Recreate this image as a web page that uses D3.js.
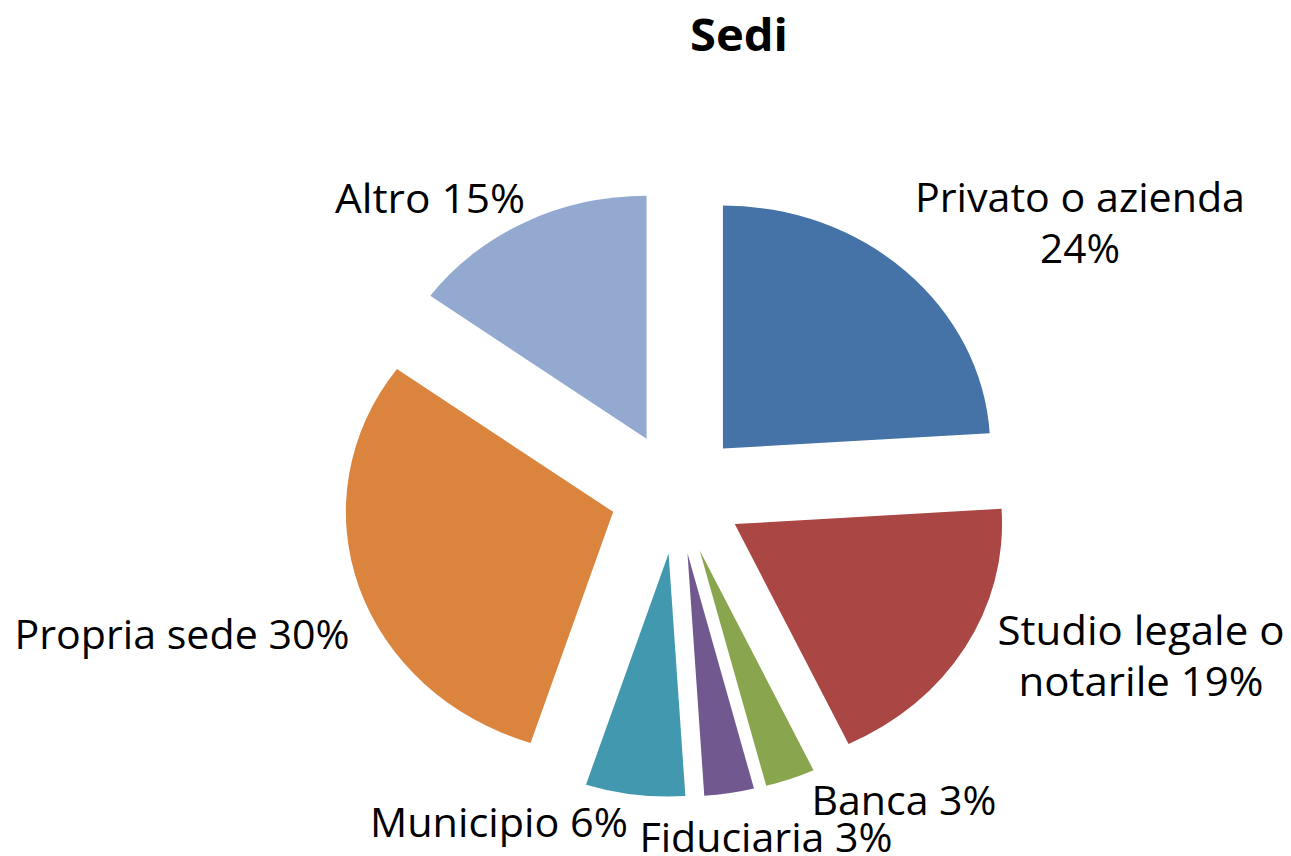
<!DOCTYPE html>
<html>
<head>
<meta charset="utf-8">
<script src="https://cdn.jsdelivr.net/npm/d3@7"></script>
<style>
  html, body { margin: 0; padding: 0; background: #fff; }
  text { font-family: "Open Sans", "Noto Sans", sans-serif; fill: #000; }
</style>
</head>
<body>
<svg id="chart" width="1291" height="856"></svg>
<script>
const title = "Sedi";
const categories = ["Privato o azienda", "Studio legale o notarile", "Banca", "Fiduciaria", "Municipio", "Propria sede", "Altro"];
const values = [24, 19, 3, 3, 6, 30, 15];
const colors = ["#4572A7", "#AA4643", "#89A54E", "#71588F", "#4198AF", "#DB843D", "#93A9CF"];
// label lines per slice (text content), with layout kept separately
const labelLines = [
  ["Privato o azienda", "24%"],
  ["Studio legale o", "notarile 19%"],
  ["Banca 3%"],
  ["Fiduciaria 3%"],
  ["Municipio 6%"],
  ["Propria sede 30%"],
  ["Altro 15%"]
];

// layout
const cx = 677, cy = 493, R = 243, sx = 1.1, explode = 61;
const labelLayout = [
  {x: 1080, y: 212, w: [330, 80]},
  {x: 1141, y: 645, w: [287, 245]},
  {x: 904, y: 815, w: [185]},
  {x: 766, y: 852, w: [253]},
  {x: 499, y: 837, w: [258]},
  {x: 182, y: 649, w: [335]},
  {x: 430, y: 213, w: [190]}
];
const lineH = 51;

const svg = d3.select("#chart");

svg.append("text")
  .attr("x", 739).attr("y", 51)
  .attr("text-anchor", "middle")
  .style("font-weight", "bold")
  .style("font-size", "44px")
  .attr("textLength", 98).attr("lengthAdjust", "spacingAndGlyphs")
  .text(title);

const pie = d3.pie().sort(null).value(d => d).startAngle(0).endAngle(2 * Math.PI);
const arcs = pie(values);
const arc = d3.arc().innerRadius(0).outerRadius(R);

const g = svg.append("g").attr("transform", `translate(${cx},${cy}) scale(${sx},1)`);
g.selectAll("path")
  .data(arcs)
  .join("path")
  .attr("d", arc)
  .attr("fill", (d, i) => colors[i])
  .attr("transform", d => {
    const a = (d.startAngle + d.endAngle) / 2;
    return `translate(${explode * Math.sin(a)},${-explode * Math.cos(a)})`;
  });

const lg = svg.append("g");
labelLines.forEach((lines, i) => {
  const L = labelLayout[i];
  lines.forEach((t, j) => {
    lg.append("text")
      .attr("x", L.x).attr("y", L.y + j * lineH)
      .attr("text-anchor", "middle")
      .style("font-size", "40px")
      .attr("textLength", L.w[j]).attr("lengthAdjust", "spacingAndGlyphs")
      .text(t);
  });
});
</script>
</body>
</html>
